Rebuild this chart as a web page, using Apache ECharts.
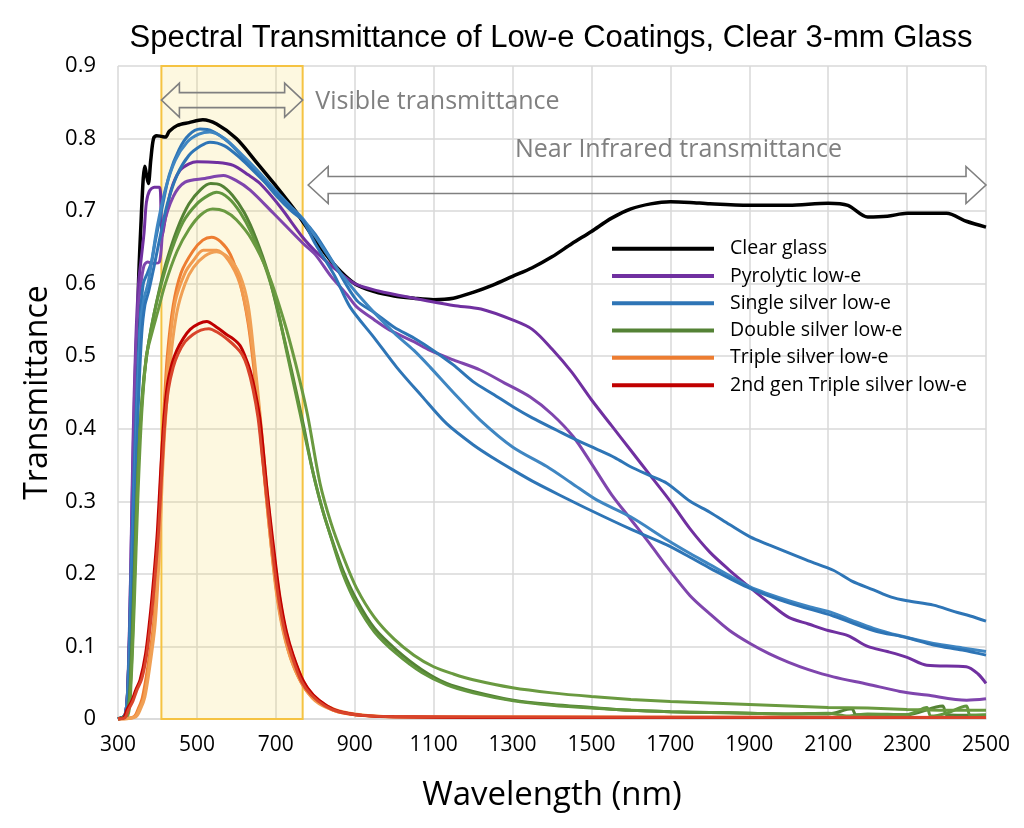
<!DOCTYPE html>
<html>
<head>
<meta charset="utf-8">
<title>Spectral Transmittance of Low-e Coatings</title>
<script src="https://cdn.jsdelivr.net/npm/echarts@6.0.0/dist/echarts.min.js"></script>
<style>
  html, body { margin: 0; padding: 0; background: #fff; }
  #chart { width: 1024px; height: 828px; }
</style>
</head>
<body>
<div id="chart"></div>
<script>
/* =========================================
   1. DATA  (wavelength nm, transmittance)
   ========================================= */
const legendNames = [
  "Clear glass",
  "Pyrolytic low-e",
  "Single silver low-e",
  "Double silver low-e",
  "Triple silver low-e",
  "2nd gen Triple silver low-e",
];

const clearGlass = [[300,0],[318,0.005],[325,0.04],[332,0.15],[340,0.3],[347,0.45],[352,0.6],[358,0.68],[364,0.745],[368,0.762],[372,0.75],[377,0.738],[383,0.77],[390,0.8],[398,0.804],[410,0.803],[420,0.802],[430,0.81],[450,0.818],[480,0.822],[515,0.826],[550,0.82],[600,0.8],[650,0.768],[700,0.735],[750,0.7],[800,0.66],[850,0.625],[900,0.6],[950,0.589],[1000,0.583],[1050,0.58],[1100,0.578],[1150,0.58],[1200,0.588],[1250,0.598],[1300,0.61],[1350,0.622],[1400,0.637],[1450,0.655],[1500,0.672],[1550,0.69],[1600,0.703],[1650,0.71],[1700,0.713],[1750,0.712],[1800,0.71],[1900,0.708],[2000,0.708],[2100,0.711],[2150,0.708],[2200,0.692],[2250,0.693],[2300,0.697],[2400,0.697],[2450,0.686],[2500,0.678]];

const pyrolyticA = [[300,0],[318,0.005],[325,0.05],[332,0.2],[338,0.38],[345,0.52],[352,0.6],[360,0.64],[366,0.67],[372,0.712],[380,0.728],[392,0.733],[405,0.733],[409,0.7],[412,0.665],[420,0.69],[435,0.73],[457,0.756],[480,0.765],[500,0.768],[550,0.767],[592,0.763],[630,0.75],[660,0.738],[711,0.706],[768,0.664],[800,0.645],[840,0.625],[900,0.6],[960,0.59],[1050,0.58],[1150,0.57],[1220,0.565],[1300,0.55],[1350,0.537],[1400,0.51],[1450,0.478],[1500,0.44],[1550,0.405],[1600,0.37],[1650,0.335],[1700,0.3],[1750,0.262],[1800,0.23],[1850,0.205],[1900,0.182],[1950,0.16],[2000,0.14],[2050,0.131],[2100,0.122],[2150,0.115],[2200,0.1],[2250,0.093],[2300,0.085],[2350,0.074],[2450,0.072],[2480,0.062],[2500,0.049]];

const pyrolyticB = [[300,0],[318,0.005],[326,0.06],[334,0.25],[342,0.45],[350,0.56],[358,0.6],[366,0.625],[375,0.63],[390,0.628],[405,0.63],[415,0.678],[440,0.72],[470,0.74],[520,0.745],[567,0.749],[600,0.742],[635,0.729],[694,0.697],[768,0.656],[800,0.64],[840,0.61],[880,0.585],[905,0.568],[950,0.55],[989,0.536],[1050,0.52],[1091,0.508],[1150,0.495],[1218,0.481],[1280,0.463],[1344,0.444],[1400,0.42],[1454,0.389],[1500,0.352],[1550,0.31],[1600,0.275],[1650,0.24],[1691,0.21],[1750,0.17],[1800,0.145],[1850,0.122],[1902,0.104],[1950,0.09],[2000,0.078],[2050,0.068],[2113,0.058],[2200,0.048],[2282,0.038],[2350,0.033],[2451,0.026],[2500,0.028]];

const singleA = [[300,0],[318,0.005],[326,0.06],[333,0.2],[340,0.33],[348,0.45],[356,0.55],[364,0.6],[375,0.615],[385,0.63],[395,0.66],[410,0.7],[430,0.75],[455,0.785],[480,0.805],[508,0.813],[540,0.81],[580,0.795],[620,0.772],[660,0.748],[700,0.722],[740,0.7],[768,0.688],[800,0.668],[850,0.625],[905,0.577],[950,0.56],[1000,0.54],[1050,0.525],[1099,0.508],[1150,0.488],[1200,0.465],[1250,0.448],[1302,0.43],[1350,0.415],[1412,0.398],[1460,0.385],[1513,0.372],[1560,0.36],[1598,0.348],[1650,0.335],[1691,0.325],[1750,0.3],[1800,0.285],[1850,0.268],[1902,0.251],[1950,0.24],[2000,0.229],[2050,0.218],[2113,0.205],[2160,0.19],[2215,0.178],[2260,0.168],[2300,0.163],[2367,0.157],[2420,0.148],[2460,0.142],[2500,0.135]];

const singleB = [[300,0],[318,0.005],[327,0.05],[335,0.2],[343,0.33],[351,0.47],[358,0.55],[366,0.58],[376,0.6],[388,0.64],[400,0.68],[420,0.73],[445,0.77],[475,0.795],[505,0.806],[533,0.809],[570,0.8],[610,0.78],[650,0.758],[700,0.728],[740,0.705],[768,0.69],[800,0.665],[850,0.625],[921,0.577],[1000,0.532],[1050,0.508],[1091,0.485],[1150,0.45],[1218,0.412],[1300,0.375],[1387,0.348],[1450,0.325],[1513,0.302],[1598,0.279],[1691,0.247],[1750,0.228],[1800,0.213],[1902,0.182],[1950,0.172],[2000,0.163],[2050,0.155],[2113,0.146],[2160,0.136],[2215,0.125],[2280,0.115],[2367,0.104],[2440,0.098],[2500,0.093]];

const singleC = [[300,0],[318,0.005],[328,0.04],[336,0.18],[344,0.32],[352,0.44],[360,0.53],[368,0.57],[378,0.59],[390,0.62],[405,0.66],[425,0.71],[450,0.75],[480,0.777],[510,0.79],[533,0.795],[570,0.79],[610,0.773],[650,0.752],[700,0.725],[740,0.703],[768,0.688],[800,0.655],[850,0.61],[888,0.568],[950,0.525],[1006,0.485],[1070,0.445],[1133,0.407],[1200,0.378],[1250,0.36],[1302,0.343],[1360,0.325],[1429,0.306],[1500,0.287],[1598,0.262],[1691,0.24],[1750,0.223],[1800,0.208],[1902,0.18],[2000,0.16],[2113,0.142],[2215,0.122],[2300,0.112],[2367,0.102],[2440,0.095],[2500,0.088]];

const doubleA = [[300,0],[322,0.005],[330,0.04],[338,0.15],[346,0.28],[354,0.38],[362,0.45],[372,0.5],[385,0.54],[400,0.58],[420,0.625],[450,0.675],[480,0.71],[510,0.73],[535,0.738],[560,0.736],[590,0.722],[620,0.698],[650,0.662],[680,0.615],[710,0.55],[740,0.48],[770,0.405],[795,0.338],[820,0.285],[837,0.256],[870,0.205],[905,0.164],[950,0.125],[1006,0.095],[1070,0.068],[1133,0.049],[1200,0.038],[1302,0.026],[1400,0.02],[1500,0.016],[1598,0.012],[1700,0.01],[1800,0.009],[1900,0.008],[2000,0.007],[2100,0.007],[2160,0.014],[2170,0.006],[2200,0.006],[2300,0.006],[2390,0.018],[2400,0.006],[2500,0.005]];

const doubleB = [[300,0],[322,0.005],[331,0.04],[340,0.16],[348,0.3],[356,0.4],[366,0.47],[378,0.52],[392,0.56],[410,0.6],[435,0.645],[465,0.685],[500,0.71],[530,0.722],[550,0.726],[580,0.718],[610,0.698],[640,0.668],[670,0.628],[700,0.575],[730,0.5],[760,0.425],[790,0.35],[815,0.295],[840,0.25],[870,0.2],[905,0.158],[950,0.12],[1006,0.09],[1070,0.064],[1133,0.047],[1200,0.036],[1302,0.025],[1400,0.019],[1500,0.015],[1600,0.012],[1700,0.01],[1800,0.009],[1900,0.008],[2000,0.007],[2100,0.008],[2150,0.004],[2200,0.007],[2300,0.006],[2350,0.016],[2360,0.004],[2400,0.008],[2450,0.018],[2460,0.005],[2500,0.006]];

const doubleC = [[300,0],[325,0.005],[333,0.05],[342,0.17],[350,0.3],[360,0.42],[372,0.5],[385,0.53],[400,0.56],[420,0.6],[450,0.645],[480,0.675],[510,0.695],[540,0.703],[570,0.7],[600,0.688],[640,0.66],[680,0.615],[720,0.55],[750,0.49],[780,0.42],[812,0.325],[840,0.27],[870,0.225],[905,0.18],[950,0.14],[1000,0.11],[1050,0.088],[1100,0.072],[1150,0.062],[1200,0.054],[1300,0.043],[1400,0.036],[1500,0.031],[1600,0.027],[1700,0.024],[1800,0.022],[1900,0.02],[2000,0.018],[2100,0.016],[2200,0.015],[2300,0.013],[2400,0.012],[2500,0.012]];

const tripleA = [[300,0],[340,0.003],[352,0.015],[362,0.03],[375,0.07],[390,0.13],[400,0.22],[408,0.33],[416,0.42],[425,0.5],[440,0.57],[460,0.615],[490,0.645],[515,0.66],[537,0.664],[560,0.658],[585,0.64],[610,0.6],[630,0.545],[645,0.48],[660,0.4],[675,0.31],[690,0.23],[705,0.165],[720,0.12],[740,0.08],[770,0.045],[800,0.027],[846,0.012],[900,0.006],[1000,0.003],[1200,0.002],[2500,0.002]];

const tripleB = [[300,0],[342,0.003],[355,0.015],[366,0.03],[378,0.07],[392,0.13],[402,0.22],[410,0.33],[418,0.42],[428,0.5],[445,0.575],[470,0.615],[491,0.632],[516,0.646],[550,0.646],[580,0.632],[609,0.6],[630,0.55],[645,0.49],[660,0.41],[672,0.33],[686,0.25],[700,0.18],[715,0.13],[735,0.088],[765,0.05],[800,0.025],[846,0.012],[900,0.006],[1000,0.003],[2500,0.002]];

const tripleC = [[300,0],[345,0.003],[358,0.015],[368,0.03],[380,0.07],[394,0.13],[404,0.22],[412,0.33],[420,0.41],[432,0.49],[449,0.56],[470,0.6],[491,0.622],[520,0.638],[550,0.644],[580,0.636],[609,0.612],[630,0.57],[645,0.5],[660,0.42],[675,0.33],[690,0.25],[705,0.185],[720,0.135],[740,0.093],[770,0.052],[800,0.03],[846,0.014],[900,0.007],[1000,0.003],[2500,0.002]];

const gen2A = [[300,0],[315,0.002],[322,0.012],[335,0.025],[345,0.04],[356,0.054],[370,0.09],[383,0.15],[393,0.21],[400,0.26],[408,0.34],[416,0.41],[425,0.46],[437,0.49],[449,0.508],[466,0.525],[483,0.537],[505,0.545],[525,0.548],[550,0.54],[575,0.53],[592,0.524],[609,0.515],[622,0.5],[635,0.48],[648,0.45],[660,0.413],[670,0.36],[677,0.32],[685,0.28],[698,0.22],[711,0.166],[727,0.12],[744,0.088],[770,0.052],[795,0.033],[830,0.018],[863,0.01],[920,0.005],[1000,0.003],[1200,0.002],[2500,0.002]];

const gen2B = [[300,0],[318,0.002],[326,0.012],[338,0.025],[348,0.04],[360,0.055],[373,0.09],[386,0.15],[396,0.21],[403,0.26],[411,0.34],[419,0.41],[428,0.455],[440,0.485],[452,0.503],[470,0.52],[490,0.53],[510,0.536],[530,0.538],[555,0.532],[580,0.522],[600,0.512],[615,0.502],[628,0.485],[642,0.455],[655,0.415],[666,0.36],[674,0.32],[682,0.28],[694,0.22],[707,0.166],[723,0.12],[740,0.088],[765,0.052],[790,0.033],[825,0.018],[860,0.01],[920,0.005],[1000,0.003],[2500,0.002]];

// wavelength bands [start, end]
const visibleBand = [410, 768];
// double arrows: [from nm, to nm, transmittance]
const arrowSpans = [[410, 768, 0.853], [782, 2500, 0.736]];
const arrowLabels = ["Visible transmittance", "Near Infrared transmittance"];

/* =========================================
   2. CHART
   ========================================= */
const FONT = "'Open Sans', 'Noto Sans', sans-serif";
const GRID_GREY = "#d9d9d9";
const ARROW_GREY = "#808080";

// arrow head / shaft sizes (px) and label anchor (nm, T) per arrow
const arrowShape = [
  { shaft: 7.5, head: 17, len: 18, label: [800, 0.85] },
  { shaft: 8.5, head: 18.5, len: 20, label: [1306, 0.785] },
];

function curve(name, data, color, width) {
  return {
    name: name,
    type: "line",
    data: data,
    showSymbol: false,
    smooth: 0.3,
    lineStyle: { color: color, width: width || 3 },
    itemStyle: { color: color },
    emphasis: { disabled: true },
    animation: false,
  };
}

function renderArrow(params, api) {
  const s = arrowShape[params.dataIndex];
  const a = api.coord([api.value(0), api.value(2)]);
  const b = api.coord([api.value(1), api.value(2)]);
  const y = a[1];
  const pts = [
    [a[0], y], [a[0] + s.len, y - s.head], [a[0] + s.len, y - s.shaft],
    [b[0] - s.len, y - s.shaft], [b[0] - s.len, y - s.head], [b[0], y],
    [b[0] - s.len, y + s.head], [b[0] - s.len, y + s.shaft],
    [a[0] + s.len, y + s.shaft], [a[0] + s.len, y + s.head],
  ];
  const lp = api.coord(s.label);
  return {
    type: "group",
    children: [
      {
        type: "polygon",
        shape: { points: pts },
        style: { fill: "none", stroke: ARROW_GREY, lineWidth: 1.6 },
      },
      {
        type: "text",
        x: lp[0],
        y: lp[1],
        style: {
          text: arrowLabels[params.dataIndex],
          fill: ARROW_GREY,
          font: "25px " + FONT,
          align: "left",
          verticalAlign: "middle",
        },
      },
    ],
  };
}

function initChart() {
  const dom = document.getElementById("chart");
  const chart = echarts.init(dom, null, { renderer: "canvas" });

  const option = {
    backgroundColor: "#ffffff",
    animation: false,
    title: {
      text: "Spectral Transmittance of Low-e Coatings, Clear 3-mm Glass",
      left: 546,
      top: 18,
      textAlign: "center",
      textStyle: {
        fontFamily: "'Liberation Sans', Arial, sans-serif",
        fontSize: 31,
        fontWeight: "normal",
        color: "#000",
      },
    },
    grid: { left: 118, right: 38, top: 66, bottom: 109, containLabel: false },
    legend: {
      data: legendNames,
      orient: "vertical",
      left: 607,
      top: 232,
      icon: "rect",
      itemWidth: 102,
      itemHeight: 4,
      itemGap: 4,
      textStyle: {
        fontFamily: FONT,
        fontSize: 19.5,
        color: "#000",
        lineHeight: 23.3,
        padding: [0, 0, 0, 11],
      },
      selectedMode: false,
    },
    xAxis: {
      type: "value",
      min: 300,
      max: 2500,
      interval: 200,
      name: "Wavelength (nm)",
      nameLocation: "middle",
      nameGap: 60,
      nameTextStyle: { fontFamily: FONT, fontSize: 33, color: "#000" },
      axisLine: { show: true, lineStyle: { color: GRID_GREY, width: 1.5 } },
      axisTick: { show: false },
      axisLabel: {
        fontFamily: FONT,
        fontSize: 21,
        color: "#000",
        margin: 16,
        formatter: (v) => String(v),
      },
      splitLine: { show: true, lineStyle: { color: GRID_GREY, width: 1.5 } },
    },
    yAxis: {
      type: "value",
      min: 0,
      max: 0.9,
      interval: 0.1,
      name: "Transmittance",
      nameLocation: "middle",
      nameGap: 62,
      nameTextStyle: { fontFamily: FONT, fontSize: 32, color: "#000" },
      axisLine: { show: false },
      axisTick: { show: false },
      axisLabel: {
        fontFamily: FONT,
        fontSize: 22,
        color: "#000",
        margin: 22,
        formatter: (v) => (v === 0 ? "0" : v.toFixed(1)),
      },
      splitLine: { show: true, lineStyle: { color: GRID_GREY, width: 1.5 } },
    },
    series: [
      {
        // visible band
        type: "line",
        data: [],
        silent: true,
        z: 1,
        markArea: {
          silent: true,
          itemStyle: {
            color: "rgba(245, 220, 100, 0.2)",
            borderColor: "#f5c342",
            borderWidth: 2,
          },
          data: [[{ xAxis: visibleBand[0] }, { xAxis: visibleBand[1] }]],
        },
      },
      {
        type: "custom",
        data: arrowSpans,
        renderItem: renderArrow,
        encode: { x: [0, 1], y: 2 },
        clip: false,
        silent: true,
        z: 3,
      },
      curve(legendNames[0], clearGlass, "#000000", 3.5),
      curve(legendNames[1], pyrolyticA, "#7030a0"),
      curve(legendNames[1], pyrolyticB, "#7f45ad"),
      curve(legendNames[2], singleA, "#2e75b6"),
      curve(legendNames[2], singleB, "#3f86c2"),
      curve(legendNames[2], singleC, "#2e75b6"),
      curve(legendNames[3], doubleA, "#548235"),
      curve(legendNames[3], doubleB, "#62963e"),
      curve(legendNames[3], doubleC, "#6a9a40"),
      curve(legendNames[4], tripleA, "#ed7d31"),
      curve(legendNames[4], tripleB, "#f29a4e"),
      curve(legendNames[4], tripleC, "#f0a055"),
      curve(legendNames[5], gen2A, "#c00000"),
      curve(legendNames[5], gen2B, "#d9442b"),
    ],
  };

  chart.setOption(option);
  window.addEventListener("resize", () => chart.resize());
}

document.addEventListener("DOMContentLoaded", initChart);
</script>
</body>
</html>
